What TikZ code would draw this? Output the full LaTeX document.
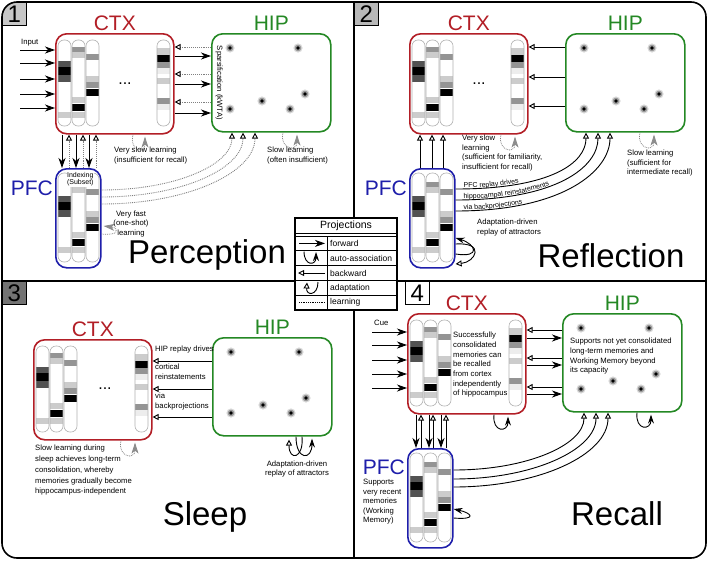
\documentclass[tikz,border=0pt]{standalone}
\usepackage{fontspec}
\setmainfont{Liberation Sans}
\usetikzlibrary{arrows.meta,positioning,decorations.text}

\definecolor{ctxred}{RGB}{178,30,38}
\definecolor{hipgreen}{RGB}{36,136,36}
\definecolor{pfcblue}{RGB}{30,30,170}
\colorlet{cdark}{black!68}
\colorlet{cmid}{black!42}
\colorlet{clight}{black!20}
\colorlet{cvlight}{black!7}

\newcommand\smalltxt{\fontsize{7.7}{9.5}\selectfont}
\newcommand\pathtxt{\fontsize{7}{8}\selectfont}
\newcommand\legtxt{\fontsize{8.5}{10}\selectfont}
\newcommand\modtxt{\fontsize{21}{21}\selectfont}
\newcommand\phasetxt{\fontsize{33}{33}\selectfont}
\newcommand\tagtxt{\fontsize{24}{24}\selectfont}

% the three left columns of a module (cells, then outline from #1 to #2)
\newcommand\threecols[2]{%
  \foreach \cx/\cells in {3/{28/34/cdark,34/42/black,42/49/cdark,79/85/clight},%
      17/{14/19/cmid,19/25/clight,64/70/clight,71/78/black,79/85/clight},%
      31/{21/27/cmid,43/49/clight,49/55/cmid,56/63/black}}{%
    \foreach \ya/\yb/\sh in \cells {\fill[\sh] (\cx,\ya) rectangle (\cx+13,\yb);}
    \draw[colline] (\cx,#1) rectangle (\cx+13,#2);
  }}

\begin{document}
\begin{tikzpicture}[x=1pt, y=-1pt,
    modbox/.style={draw, fill=white, rounded corners=11pt, line width=1.6pt, inner sep=0pt},
    ctxbox/.style={modbox, draw=ctxred, minimum width=118pt, minimum height=100pt, anchor=north west},
    hipbox/.style={modbox, draw=hipgreen, minimum width=119pt, minimum height=98pt, anchor=north west},
    pfcbox/.style={modbox, draw=pfcblue, minimum width=45pt, minimum height=99pt, anchor=north west},
    colline/.style={draw=black!30, line width=0.6pt, rounded corners=6pt},
    modlbl/.style={font=\modtxt, inner sep=1pt},
    note/.style={font=\smalltxt, align=left, inner sep=0pt},
    phase/.style={font=\phasetxt, anchor=base},
    tagbox/.style={draw, line width=0.8pt, minimum width=24pt, minimum height=23pt, inner sep=0pt, font=\tagtxt, anchor=north west},
    divline/.style={line width=1.3pt},
    fwd/.style={line width=0.9pt, -{Stealth[length=10pt, width=7pt, inset=3pt]}},
    bwd/.style={line width=0.9pt, -{Triangle[length=6pt, width=6pt, fill=white]}},
    bwdlearn/.style={line width=0.9pt, densely dotted, draw=black!50, -{Triangle[length=6pt, width=6pt, color=black, fill=white]}},
    learnloop/.style={densely dotted, draw=black!50, line width=0.8pt, -{Stealth[length=11pt, width=7pt, inset=3pt, color=black!45]}},
    autoloop/.style={line width=0.9pt, -{Stealth[length=9pt, width=6pt, inset=3pt]}},
    adaptloop/.style={line width=0.9pt, -{Triangle[length=6pt, width=6pt, fill=white]}},
    replaytext/.style={decorate, decoration={text along path, raise=1pt, text align={left indent=8pt}, text={|\pathtxt|#1}}},
    ctxcols/.pic={\threecols{7}{93}
      \foreach \ya/\yb/\sh in {15/22/clight,22/29/black,29/35/cmid,35/41/cvlight,45/51/clight,65/71/cmid,71/77/cvlight}
        {\fill[\sh] (102,\ya) rectangle (115,\yb);}
      \draw[colline] (102,7) rectangle (115,93);},
    pfccols/.pic={\threecols{5}{94}},
    hipdots/.pic={\foreach \dx/\dy in {19/15,87/15,94/61,51/68,19/76,79/76}
      {\fill[black!15] (\dx,\dy) circle (4.6);
       \fill[black!40] (\dx,\dy) circle (3.3);
       \fill[black] (\dx,\dy) circle (1.8);}},
]
\useasboundingbox (0,0) rectangle (708,560);

% panel tags, frame, dividers
\begin{scope}
  \clip[rounded corners=15pt] (2,2) rectangle (706,558);
  \node[tagbox, fill=black!22] (tagA) at (2,2) {1};
\end{scope}
\node[tagbox, fill=black!28] (tagB) at (354,2) {2};
\node[tagbox, fill=black!55] (tagC) at (2,281) {3};
\node[tagbox, fill=white] (tagD) at (405,281) {4};
\node[draw, line width=1.6pt, rounded corners=15pt, minimum width=704pt, minimum height=556pt] (frame) at (354,280) {};
\node[draw, line width=1.3pt, fill=white, minimum width=102pt, minimum height=92pt] (legend) at (346,264) {};
\draw[divline] (frame.north) -- (frame.north |- legend.north);
\draw[divline] (frame.south) -- (frame.south |- legend.south);
\draw[divline] (frame.west |- 0,281) -- (legend.west |- 0,281);
\draw[divline] (legend.east |- 0,281) -- (frame.east |- 0,281);

% legend
\node[font=\fontsize{10.5}{12}\selectfont] (legHead) at (346,226) {Projections};
\draw[line width=0.8pt] (legend.west |- 0,233) -- (legend.east |- 0,233);
\draw[line width=0.8pt] (legend.west |- 0,236) -- (legend.east |- 0,236);
\foreach \ry in {250.8,265.6,280.4,295.2}
  \draw[line width=0.8pt] (legend.west |- 0,\ry) -- (legend.east |- 0,\ry);
\draw[line width=0.8pt] (327,236) -- (327,310);
\foreach \ry/\lt [count=\i] in {243.4/forward,258.2/auto-association,273/backward,287.8/adaptation,302.6/learning}
  \node[font=\legtxt, anchor=west, inner sep=0pt] (leg\i) at (330,\ry) {\lt};
\draw[fwd] (299,243.4) -- (325,243.4);
\draw[autoloop] (304,251.5) .. controls (304,266) and (316,266) .. (316,252);
\draw[bwd] (325,273) -- (298,273);
\draw[adaptloop] (318,282) .. controls (318,296) and (306,296) .. (307,282.5);
\draw[densely dotted, line width=0.8pt] (299,302.6) -- (325,302.6);

% ---- 1: perception
\node[ctxbox] (ctxA) at (55,33) {};
\pic at (ctxA.north west) {ctxcols};
\node[font=\fontsize{16}{16}\selectfont, anchor=base] (dotsA) at ([xshift=70pt, yshift=-51pt]ctxA.north west) {...};
\node[modlbl, text=ctxred, above=1pt of ctxA] (ctxAl) {CTX};
\node[hipbox] (hipA) at (211,33) {};
\pic at (hipA.north west) {hipdots};
\node[modlbl, text=hipgreen, above=1pt of hipA] (hipAl) {HIP};
\node[pfcbox] (pfcA) at (55,168) {};
\pic at (pfcA.north west) {pfccols};
\node[modlbl, text=pfcblue, anchor=east] (pfcAl) at ([xshift=-1pt, yshift=-20pt]pfcA.north west) {PFC};

\node[note, anchor=base west] (inA) at ([xshift=-34pt, yshift=-11pt]ctxA.north west) {Input};
\foreach \dy in {17,30,46,61,75}
  \draw[fwd] ([xshift=-35pt, yshift=-\dy pt]ctxA.north west) -- ([yshift=-\dy pt]ctxA.north west);
\foreach \dy in {23,51,80}
  \draw[fwd] ([yshift=-\dy pt]ctxA.north east) -- ([yshift=-\dy pt]ctxA.north east -| hipA.west);
\foreach \dy in {14,41,69}
  \draw[bwdlearn] ([yshift=-\dy pt]ctxA.north east -| hipA.west) -- ([yshift=-\dy pt]ctxA.north east);
\foreach \dx in {7,21,34}
  \draw[fwd] ([xshift=\dx pt]ctxA.south west) -- ([xshift=\dx pt]ctxA.south west |- pfcA.north);
\foreach \dx in {14,28,41}
  \draw[bwdlearn] ([xshift=\dx pt]ctxA.south west |- pfcA.north) -- ([xshift=\dx pt]ctxA.south west);
\foreach \dy/\dx/\ca/\cb in {22/21/74/32,29/32/80/36,36/44/86/40}
  \draw[bwdlearn] ([yshift=-\dy pt]pfcA.north east) .. controls +(\ca,0) and +(0,\cb) .. ([xshift=\dx pt]hipA.south west);
\draw[learnloop] ([xshift=78pt]ctxA.south west) .. controls +(-4,16) and +(0,18) .. ([xshift=90pt, yshift=-2pt]ctxA.south west);
\draw[learnloop] ([xshift=72pt]hipA.south west) .. controls +(-4,16) and +(0,18) .. ([xshift=86pt, yshift=-2pt]hipA.south west);
\draw[learnloop] ([yshift=-66pt]pfcA.north east) .. controls +(18,2) and +(16,2) .. ([xshift=2pt, yshift=-58pt]pfcA.north east);

\node[note, rotate=-90] (spA) at ([xshift=8pt]hipA.west) {Sparsification (kWTA)};
\node[note, align=center, font=\fontsize{7}{7.5}\selectfont, fill=white, inner sep=0.5pt] (idxA) at ([xshift=2pt, yshift=-11pt]pfcA.north) {Indexing\\(Subset)};
\node[note, anchor=north west] (slowctxA) at (114,147) {Very slow learning\\(insufficient for recall)};
\node[note, anchor=north west] (slowhipA) at (267,147) {Slow learning\\(often insufficient)};
\node[note, align=center] (fastA) at (131,224) {Very fast\\(one-shot)\\learning};
\node[phase] (titleA) at (207,263) {Perception};

% ---- 2: reflection
\node[ctxbox] (ctxB) at (409,33) {};
\pic at (ctxB.north west) {ctxcols};
\node[font=\fontsize{16}{16}\selectfont, anchor=base] (dotsB) at ([xshift=70pt, yshift=-51pt]ctxB.north west) {...};
\node[modlbl, text=ctxred, above=1pt of ctxB] (ctxBl) {CTX};
\node[hipbox] (hipB) at (565,33) {};
\pic at (hipB.north west) {hipdots};
\node[modlbl, text=hipgreen, above=1pt of hipB] (hipBl) {HIP};
\node[pfcbox] (pfcB) at (409,168) {};
\pic at (pfcB.north west) {pfccols};
\node[modlbl, text=pfcblue, anchor=east] (pfcBl) at ([xshift=-1pt, yshift=-20pt]pfcB.north west) {PFC};

\foreach \dy in {14,44,73}
  \draw[bwd] ([yshift=-\dy pt]ctxB.north east -| hipB.west) -- ([yshift=-\dy pt]ctxB.north east);
\foreach \dx in {11,23,34}
  \draw[bwd] ([xshift=\dx pt]pfcB.north west) -- ([xshift=\dx pt]pfcB.north west |- ctxB.south);
\foreach \dy/\dx/\ca/\cb/\txt in {21/21/96/30/PFC replay drives,32/33/102/34/hippocampal reinstatements,43/45/108/38/via backprojections}{
  \draw[bwd] ([yshift=-\dy pt]pfcB.north east) .. controls +(\ca,0) and +(0,\cb) .. ([xshift=\dx pt]hipB.south west);
  \path[replaytext/.expand once=\txt] ([yshift=-\dy pt]pfcB.north east) .. controls +(\ca,0) and +(0,\cb) .. ([xshift=\dx pt]hipB.south west);
}
\draw[learnloop] ([xshift=92pt]ctxB.south west) .. controls +(-4,16) and +(0,18) .. ([xshift=106pt, yshift=-2pt]ctxB.south west);
\draw[learnloop] ([xshift=75pt]hipB.south west) .. controls +(-4,16) and +(0,18) .. ([xshift=89pt, yshift=-2pt]hipB.south west);
\draw[autoloop] ([yshift=-86pt]pfcB.north east) .. controls +(26,4) and +(20,6) .. ([yshift=-70pt]pfcB.north east);
\draw[adaptloop] ([yshift=-76pt]pfcB.north east) .. controls +(30,-2) and +(20,-2) .. ([yshift=-96pt]pfcB.north east);

\node[note, anchor=north west] (slowctxB) at (462,135) {Very slow\\learning\\(sufficient for familiarity,\\insufficient for recall)};
\node[note, anchor=north west] (slowhipB) at (627,150) {Slow learning\\(sufficient for\\intermediate recall)};
\node[note, anchor=north west] (adaptB) at (477,219) {Adaptation-driven\\replay of attractors};
\node[phase] (titleB) at (611,267) {Reflection};

% ---- 3: sleep
\node[ctxbox] (ctxC) at (33,339) {};
\pic at (ctxC.north west) {ctxcols};
\node[font=\fontsize{16}{16}\selectfont, anchor=base] (dotsC) at ([xshift=72pt, yshift=-50pt]ctxC.north west) {...};
\node[modlbl, text=ctxred, above=1pt of ctxC] (ctxCl) {CTX};
\node[hipbox] (hipC) at (212,337) {};
\pic at (hipC.north west) {hipdots};
\node[modlbl, text=hipgreen, above=1pt of hipC] (hipCl) {HIP};

\foreach \dy in {22,50,78}
  \draw[bwd] ([yshift=-\dy pt]ctxC.north east -| hipC.west) -- ([yshift=-\dy pt]ctxC.north east);
\draw[learnloop] ([xshift=88pt]ctxC.south west) .. controls +(-4,16) and +(0,18) .. ([xshift=102pt, yshift=-2pt]ctxC.south west);
\draw[adaptloop] ([xshift=90pt]hipC.south west) .. controls +(2,22) and +(0,22) .. ([xshift=77pt, yshift=-3pt]hipC.south west);
\draw[autoloop] ([xshift=84pt]hipC.south west) .. controls +(0,24) and +(0,22) .. ([xshift=100pt, yshift=-2pt]hipC.south west);

\node[note, anchor=north west] (replayC) at (155,346) {HIP replay drives};
\node[note, anchor=north west] (reinC) at (155,364) {cortical\\reinstatements};
\node[note, anchor=north west] (viaC) at (155,393) {via\\backprojections};
\node[note, anchor=north west, font=\fontsize{7.7}{10.8}\selectfont] (slowC) at (35,445) {Slow learning during\\sleep achieves long-term\\consolidation, whereby\\memories gradually become\\hippocampus-independent};
\node[note, align=center] (adaptC) at (297,469) {Adaptation-driven\\replay of attractors};
\node[phase] (titleC) at (205,525) {Sleep};

% ---- 4: recall
\node[ctxbox] (ctxD) at (407,313) {};
\pic at (ctxD.north west) {ctxcols};
\node[modlbl, text=ctxred, above=1pt of ctxD] (ctxDl) {CTX};
\node[hipbox] (hipD) at (562,313) {};
\pic at (hipD.north west) {hipdots};
\node[modlbl, text=hipgreen, above=1pt of hipD] (hipDl) {HIP};
\node[pfcbox] (pfcD) at (407,448) {};
\pic at (pfcD.north west) {pfccols};
\node[modlbl, text=pfcblue, anchor=east] (pfcDl) at ([xshift=-1pt, yshift=-19pt]pfcD.north west) {PFC};

\node[note, anchor=base west] (cueD) at ([xshift=-33pt, yshift=-12pt]ctxD.north west) {Cue};
\foreach \dy in {19,32,47,61,75}
  \draw[fwd] ([xshift=-35pt, yshift=-\dy pt]ctxD.north west) -- ([yshift=-\dy pt]ctxD.north west);
\foreach \dy in {25,52,81}
  \draw[fwd] ([yshift=-\dy pt]ctxD.north east) -- ([yshift=-\dy pt]ctxD.north east -| hipD.west);
\foreach \dy in {17,45,74}
  \draw[bwd] ([yshift=-\dy pt]ctxD.north east -| hipD.west) -- ([yshift=-\dy pt]ctxD.north east);
\foreach \dx in {9,22,34}
  \draw[fwd] ([xshift=\dx pt]ctxD.south west) -- ([xshift=\dx pt]ctxD.south west |- pfcD.north);
\foreach \dx in {14,26,39}
  \draw[bwd] ([xshift=\dx pt]ctxD.south west |- pfcD.north) -- ([xshift=\dx pt]ctxD.south west);
\foreach \dy/\dx/\ca/\cb in {22/22/74/32,31/34/80/37,39/46/86/42}
  \draw[bwd] ([yshift=-\dy pt]pfcD.north east) .. controls +(\ca,0) and +(0,\cb) .. ([xshift=\dx pt]hipD.south west);
\draw[autoloop] ([xshift=87pt]ctxD.south west) .. controls +(-2,18) and +(0,16) .. ([xshift=101pt, yshift=-2pt]ctxD.south west);
\draw[autoloop] ([xshift=75pt]hipD.south west) .. controls +(-2,18) and +(0,16) .. ([xshift=89pt, yshift=-2pt]hipD.south west);
\draw[autoloop] ([yshift=-70pt]pfcD.north east) .. controls +(24,2) and +(18,4) .. ([yshift=-61pt]pfcD.north east);

\node[note, anchor=north west, font=\fontsize{7.7}{9.7}\selectfont] (consD) at (453,332) {Successfully\\consolidated\\memories can\\be recalled\\from cortex\\independently\\of hippocampus};
\node[note, anchor=north west, font=\fontsize{7.7}{9.7}\selectfont] (suppD) at (570,338) {Supports not yet consolidated\\long-term memories and\\Working Memory beyond\\its capacity};
\node[note, anchor=north west, font=\fontsize{7.7}{9.6}\selectfont] (wmD) at (363,479) {Supports\\very recent\\memories\\(Working\\Memory)};
\node[phase] (titleD) at (617,525) {Recall};
\end{tikzpicture}
\end{document}
